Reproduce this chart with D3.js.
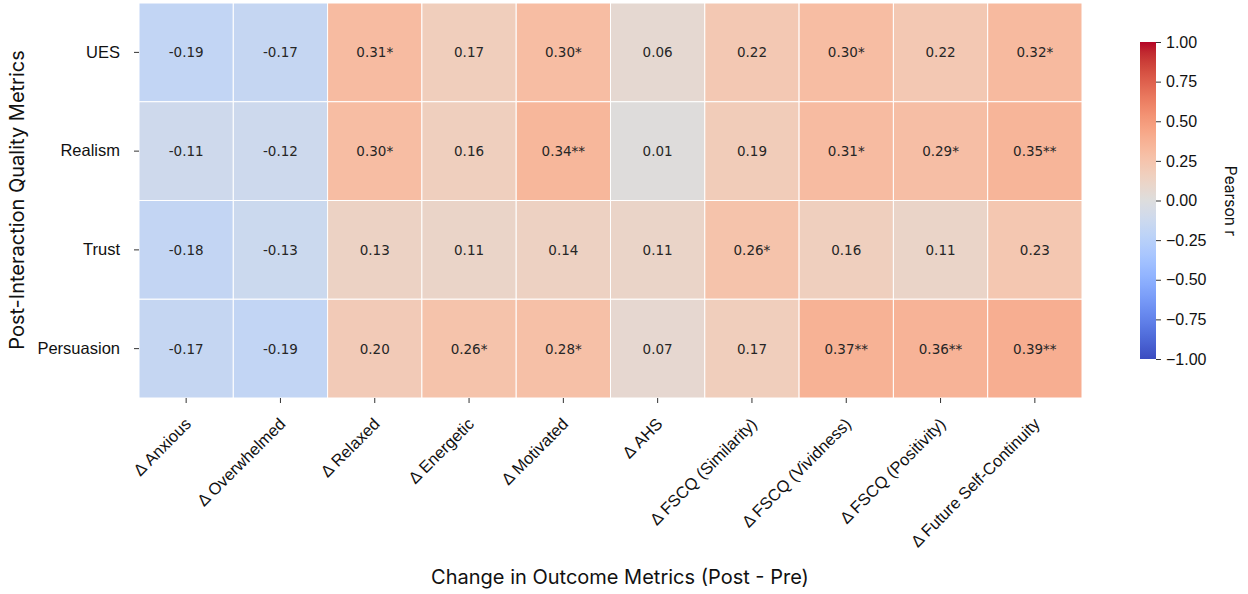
<!DOCTYPE html>
<html><head><meta charset="utf-8">
<script src="https://cdn.jsdelivr.net/npm/d3@7"></script>
<style>body{margin:0;background:#fff;} svg{display:block;font-family:Inter,"DejaVu Sans",sans-serif;}</style>
</head><body>
<svg id="c" width="1248" height="594"></svg>
<script>
const rows = ["UES","Realism","Trust","Persuasion"];
const cols = ["Δ Anxious","Δ Overwhelmed","Δ Relaxed","Δ Energetic","Δ Motivated","Δ AHS","Δ FSCQ (Similarity)","Δ FSCQ (Vividness)","Δ FSCQ (Positivity)","Δ Future Self-Continuity"];
const valUES        = [-0.19,-0.17,0.31,0.17,0.30,0.06,0.22,0.30,0.22,0.32];
const valRealism    = [-0.11,-0.12,0.30,0.16,0.34,0.01,0.19,0.31,0.29,0.35];
const valTrust      = [-0.18,-0.13,0.13,0.11,0.14,0.11,0.26,0.16,0.11,0.23];
const valPersuasion = [-0.17,-0.19,0.20,0.26,0.28,0.07,0.17,0.37,0.36,0.39];
const sigUES        = ["","","*","","*","","","*","","*"];
const sigRealism    = ["","","*","","**","","","*","*","**"];
const sigTrust      = ["","","","","","","*","","",""];
const sigPersuasion = ["","","","*","*","","","**","**","**"];
const cbTicks = [-1,-0.75,-0.5,-0.25,0,0.25,0.5,0.75,1];

const values = [valUES,valRealism,valTrust,valPersuasion];
const sigs = [sigUES,sigRealism,sigTrust,sigPersuasion];

// matplotlib coolwarm anchors
const cw = [[59,76,192],[68,90,204],[77,104,215],[87,117,225],[98,130,234],[108,142,241],[119,154,247],[130,165,251],[141,176,254],[152,185,255],[163,194,255],[174,201,253],[184,208,249],[194,213,244],[204,217,238],[213,219,230],[221,221,221],[229,216,209],[236,211,197],[241,204,185],[245,196,173],[247,187,160],[247,177,148],[247,166,135],[244,154,123],[241,141,111],[236,127,99],[229,112,88],[222,96,77],[213,80,66],[203,62,56],[192,40,47],[180,4,38]];
function coolwarm(t){
  t = Math.max(0,Math.min(1,t));
  const p = t*(cw.length-1), i = Math.min(cw.length-2, Math.floor(p)), f = p-i;
  const a=cw[i], b=cw[i+1];
  return `rgb(${Math.round(a[0]+(b[0]-a[0])*f)},${Math.round(a[1]+(b[1]-a[1])*f)},${Math.round(a[2]+(b[2]-a[2])*f)})`;
}
const color = d3.scaleSequential(coolwarm).domain([-1,1]);

const svg = d3.select("#c");
const L=139, R=1082, T=3, B=398;
const x = d3.scaleBand().domain(cols).range([L,R]);
const y = d3.scaleBand().domain(rows).range([T,B]);

const cells = [];
rows.forEach((r,i)=>cols.forEach((c,j)=>cells.push({r,c,v:values[i][j],s:sigs[i][j]})));

svg.append("g").selectAll("rect").data(cells).join("rect")
  .attr("x",d=>x(d.c)).attr("y",d=>y(d.r))
  .attr("width",x.bandwidth()).attr("height",y.bandwidth())
  .attr("fill",d=>color(d.v)).attr("stroke","#fff").attr("stroke-width",1);

svg.append("g").selectAll("text").data(cells).join("text")
  .attr("x",d=>x(d.c)+x.bandwidth()/2).attr("y",d=>y(d.r)+y.bandwidth()/2)
  .attr("text-anchor","middle").attr("dominant-baseline","central")
  .attr("font-family","'DejaVu Sans',sans-serif")
  .attr("font-size",13.5).attr("fill","#262626")
  .text(d=>d.v.toFixed(2)+d.s);

// axes
const xAxis = svg.append("g").attr("transform",`translate(0,${B})`)
  .call(d3.axisBottom(x).tickSize(5).tickPadding(5));
xAxis.select(".domain").remove();
xAxis.selectAll("line").attr("stroke","#333");
xAxis.selectAll("text").attr("font-size",16.5).attr("fill","#111")
  .attr("text-anchor","end").attr("x",0).attr("y",0).attr("dy",0)
  .attr("transform","translate(6,27) rotate(-45)");

const yAxis = svg.append("g").attr("transform",`translate(${L},0)`)
  .call(d3.axisLeft(y).tickSize(5).tickPadding(14));
yAxis.select(".domain").remove();
yAxis.selectAll("line").attr("stroke","#333");
yAxis.selectAll("text").attr("font-size",16.5).attr("fill","#111");

svg.append("text").attr("x",620).attr("y",584).attr("text-anchor","middle")
  .attr("font-size",20).attr("fill","#111").text("Change in Outcome Metrics (Post - Pre)");
svg.append("text").attr("transform","translate(24,200) rotate(-90)").attr("text-anchor","middle")
  .attr("font-size",20).attr("fill","#111").text("Post-Interaction Quality Metrics");

// colorbar
const cbX=1140, cbW=16, cbT=42, cbB=359;
const cy = d3.scaleLinear().domain([-1,1]).range([cbB,cbT]);
const defs = svg.append("defs");
const grad = defs.append("linearGradient").attr("id","cbg").attr("x1",0).attr("y1",1).attr("x2",0).attr("y2",0);
d3.range(0,1.0001,1/64).forEach(t=>grad.append("stop").attr("offset",t).attr("stop-color",coolwarm(t)));
svg.append("rect").attr("x",cbX).attr("y",cbT).attr("width",cbW).attr("height",cbB-cbT).attr("fill","url(#cbg)");
const cAxis = svg.append("g").attr("transform",`translate(${cbX+cbW},0)`)
  .call(d3.axisRight(cy).tickValues(cbTicks).tickFormat(d=>d3.format(".2f")(d).replace("-","\u2212")).tickSize(5).tickPadding(5));
cAxis.select(".domain").remove();
cAxis.selectAll("line").attr("stroke","#333");
cAxis.selectAll("text").attr("font-size",16).attr("fill","#111");
svg.append("text").attr("transform","translate(1225,201) rotate(90)").attr("text-anchor","middle")
  .attr("font-size",15.5).attr("fill","#111").text("Pearson r");
</script>
</body></html>
